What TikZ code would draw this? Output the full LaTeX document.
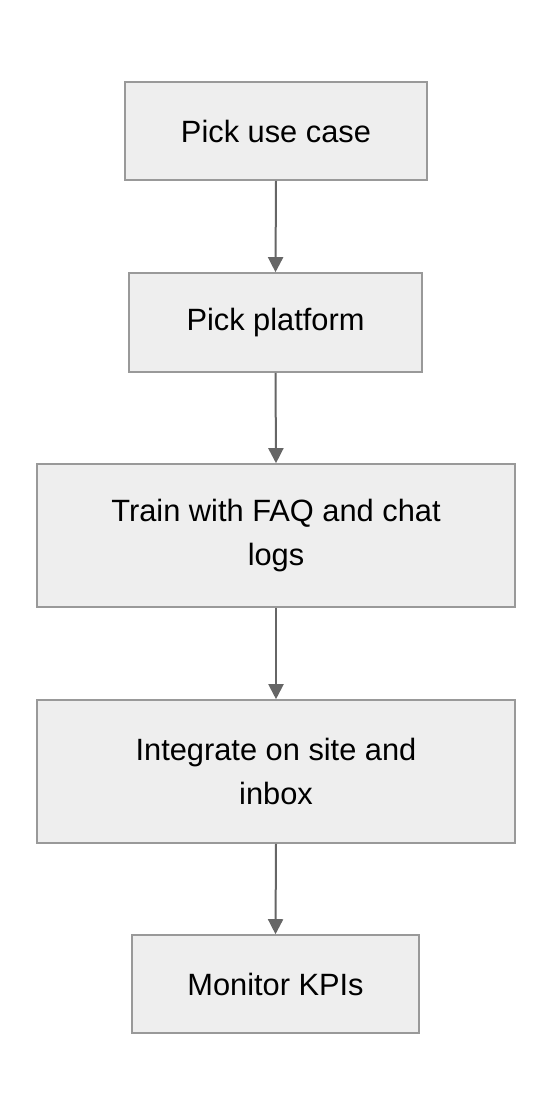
\documentclass[tikz,border=0pt]{standalone}
\usepackage{fontspec}
\setmainfont{Liberation Sans}
\usetikzlibrary{arrows.meta}
\definecolor{boxfill}{HTML}{EEEEEE}
\definecolor{boxline}{HTML}{999999}
\definecolor{arrowcol}{HTML}{666666}
\tikzset{
  stepbox/.style={draw=boxline, fill=boxfill, line width=1.6pt, align=center, inner sep=0pt,
    font=\fontsize{30.8}{44}\selectfont},
  flow/.style={draw=arrowcol, line width=2pt, -{Triangle[length=15pt,width=15pt]}}
}
\begin{document}
\begin{tikzpicture}[x=1pt,y=-1pt]
\useasboundingbox (0,0) rectangle (552,1116);
\node[stepbox, minimum width=302pt, minimum height=98pt] (a) at (276,131) {Pick use case};
\node[stepbox, minimum width=293pt, minimum height=99pt] (b) at (275.5,322.5) {Pick platform};
\node[stepbox, minimum width=478pt, minimum height=143pt] (c) at (276,535.5) {Train with FAQ and chat\\logs};
\node[stepbox, minimum width=478pt, minimum height=143pt] (d) at (276,771.5) {Integrate on site and\\inbox};
\node[stepbox, minimum width=287pt, minimum height=98pt] (e) at (275.5,984) {Monitor KPIs};
\draw[flow] (a.south) -- (b.north);
\draw[flow] (b.south) -- (c.north);
\draw[flow] (c.south) -- (d.north);
\draw[flow] (d.south) -- (e.north);
\end{tikzpicture}
\end{document}
